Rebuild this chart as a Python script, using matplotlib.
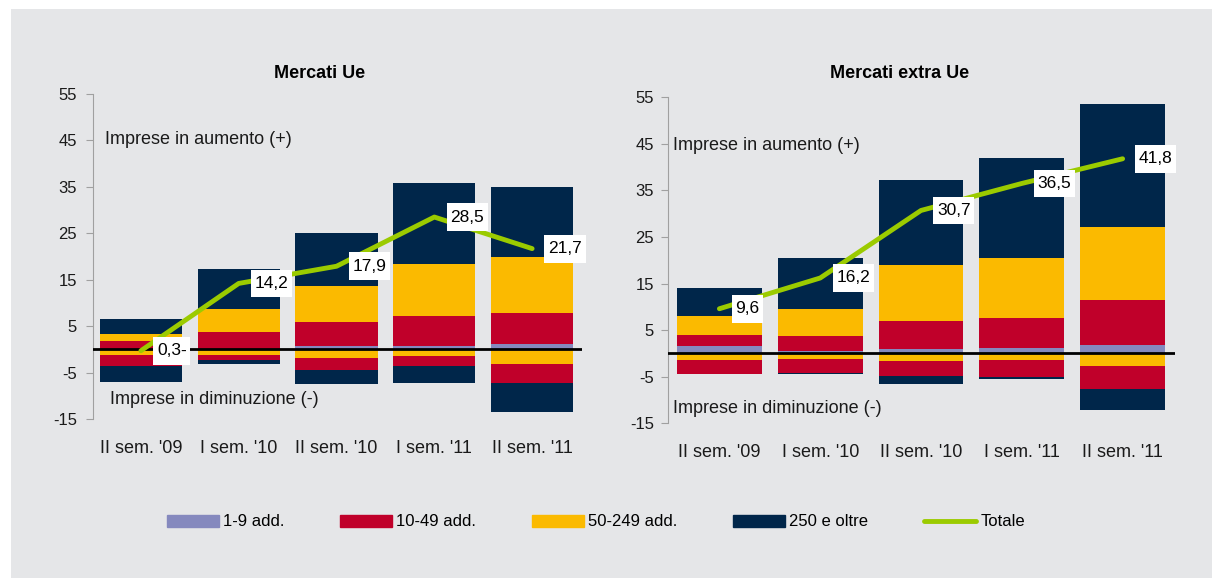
import numpy as np
import matplotlib
matplotlib.use("Agg")
import matplotlib.pyplot as plt
from matplotlib.patches import Rectangle, Patch
from matplotlib.lines import Line2D
from matplotlib.path import Path

plt.rcParams['font.family'] = ['Liberation Sans', 'DejaVu Sans']
plt.rcParams['axes.unicode_minus'] = False

periodi = ["II sem. '09", "I sem. '10", "II sem. '10", "I sem. '11", "II sem. '11"]

# Mercati Ue - quote imprese in aumento (+) e in diminuzione (-)
ue_pos_1_9 = [0.0, 0.0, 0.8, 0.8, 1.1]
ue_pos_10_49 = [1.9, 3.7, 5.1, 6.4, 6.7]
ue_pos_50_249 = [1.5, 5.0, 7.8, 11.2, 12.1]
ue_pos_250 = [3.1, 8.6, 11.4, 17.4, 15.1]
ue_neg_50_249 = [-1.2, -1.2, -1.8, -1.4, -3.2]
ue_neg_10_49 = [-2.3, -1.1, -2.7, -2.1, -4.1]
ue_neg_250 = [-3.5, -0.9, -2.9, -3.7, -6.2]
ue_totale = [-0.3, 14.2, 17.9, 28.5, 21.7]

# Mercati extra Ue
ex_pos_1_9 = [1.6, 0.5, 1.0, 1.2, 1.8]
ex_pos_10_49 = [2.4, 3.2, 6.0, 6.4, 9.7]
ex_pos_50_249 = [4.0, 5.8, 11.9, 12.9, 15.7]
ex_pos_250 = [6.1, 11.0, 18.3, 21.5, 26.4]
ex_neg_50_249 = [-1.5, -1.3, -1.7, -1.5, -2.8]
ex_neg_10_49 = [-2.9, -2.9, -3.1, -3.6, -4.8]
ex_neg_250 = [0.0, -0.3, -1.8, -0.3, -4.5]
ex_totale = [9.6, 16.2, 30.7, 36.5, 41.8]

C_19 = '#8589BE'
C_1049 = '#C0002A'
C_50249 = '#FBBA00'
C_250 = '#00264A'
C_TOT = '#9BCB00'
BG = '#E5E6E8'


def fmt(v):
    s = f"{abs(v):.1f}".replace('.', ',')
    return s + '-' if v < 0 else s


def label_box(x0, y0, width, height, mutation_size):
    # white box, wider padding top/bottom than left/right
    px = 0.21 * mutation_size
    py = 0.37 * mutation_size
    x0, y0 = x0 - px, y0 - py
    x1, y1 = x0 + width + 2 * px, y0 + height + 2 * py
    return Path([(x0, y0), (x1, y0), (x1, y1), (x0, y1), (x0, y0)], closed=True)


def draw_panel(ax, pos, neg, totale, title_x, title, xlim, ylab, ypad):
    x = np.arange(len(periodi))
    w = 0.84
    bottom = np.zeros(len(x))
    for vals, col in zip(pos, [C_19, C_1049, C_50249, C_250]):
        ax.bar(x, vals, w, bottom=bottom, color=col, linewidth=0, zorder=2)
        bottom += np.array(vals)
    bottom = np.zeros(len(x))
    for vals, col in zip(neg, [C_50249, C_1049, C_250]):
        ax.bar(x, vals, w, bottom=bottom, color=col, linewidth=0, zorder=2)
        bottom += np.array(vals)
    ax.axhline(0, color='black', lw=2, zorder=3)
    ax.plot(x, totale, color=C_TOT, lw=3.5, solid_capstyle='round',
            solid_joinstyle='round', zorder=4)
    for xi, v in zip(x, totale):
        ax.annotate(fmt(v), (xi, v), xytext=(16, 0), textcoords='offset pixels',
                    ha='left', va='center', fontsize=12.5, color='black', zorder=5,
                    bbox=dict(boxstyle=label_box, fc='white', ec='none'))
    ax.set_xlim(*xlim)
    ax.set_ylim(-15, 55)
    ax.set_yticks(np.arange(-15, 56, 10))
    ax.set_xticks(x)
    ax.set_xticklabels(periodi, fontsize=13)
    ax.tick_params(axis='x', length=0, pad=15, colors='#1a1a1a')
    ax.tick_params(axis='y', length=5, color='#a0a0a0', labelsize=12,
                   labelcolor='#1a1a1a', pad=ypad)
    for s in ['top', 'right', 'bottom']:
        ax.spines[s].set_visible(False)
    ax.spines['left'].set_color('#a0a0a0')
    ax.set_facecolor('none')
    ax.text(ylab[0][0], ylab[0][1], 'Imprese in aumento (+)', fontsize=13,
            va='center', ha='left', transform=ax.get_yaxis_transform(), color='#1a1a1a')
    ax.text(ylab[1][0], ylab[1][1], 'Imprese in diminuzione (-)', fontsize=13,
            va='center', ha='left', transform=ax.get_yaxis_transform(), color='#1a1a1a')
    fig.text(title_x, 1 - 73 / 578, title, fontsize=13, fontweight='bold',
             ha='center', va='center')


fig = plt.figure(figsize=(12.12, 5.78), dpi=100, facecolor='white')
fig.patches.append(Rectangle((11 / 1212, 0), 1, 1 - 9 / 578, transform=fig.transFigure,
                             facecolor=BG, edgecolor='none', zorder=-10))

ax1 = fig.add_axes([93 / 1212, 1 - 419 / 578, 489 / 1212, 325 / 578])
ax2 = fig.add_axes([668 / 1212, 1 - 423.3 / 578, 507 / 1212, 326 / 578])

draw_panel(ax1, [ue_pos_1_9, ue_pos_10_49, ue_pos_50_249, ue_pos_250],
           [ue_neg_50_249, ue_neg_10_49, ue_neg_250], ue_totale,
           320 / 1212, 'Mercati Ue', (-0.49, 4.51),
           [(0.025, 45.3), (0.035, -10.8)], 6.5)
draw_panel(ax2, [ex_pos_1_9, ex_pos_10_49, ex_pos_50_249, ex_pos_250],
           [ex_neg_50_249, ex_neg_10_49, ex_neg_250], ex_totale,
           900 / 1212, 'Mercati extra Ue', (-0.51, 4.52),
           [(0.009, 44.7), (0.009, -11.8)], 5)

handles = [Patch(color=C_19), Patch(color=C_1049), Patch(color=C_50249),
           Patch(color=C_250), Line2D([], [], color=C_TOT, lw=3.5, solid_capstyle='round')]
labels = ['1-9 add.', '10-49 add.', '50-249 add.', '250 e oltre', 'Totale']
fig.legend(handles, labels, loc='center', bbox_to_anchor=(596 / 1212, 1 - 522 / 578),
           ncol=5, frameon=False, fontsize=12, handlelength=3.12, handleheight=0.76,
           handletextpad=0.24, columnspacing=3.36)

fig.savefig('out.png', dpi=100, facecolor=fig.get_facecolor())
